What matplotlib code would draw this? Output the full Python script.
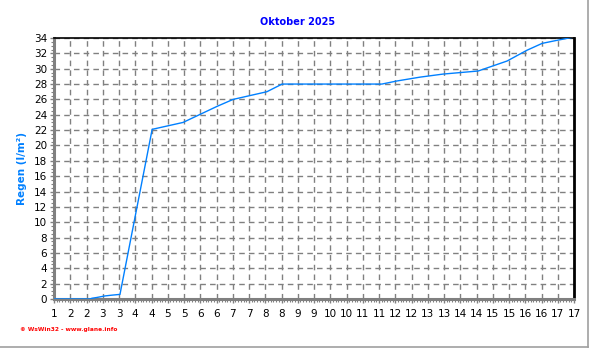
import matplotlib
matplotlib.use("Agg")
import matplotlib.pyplot as plt
from matplotlib.ticker import MultipleLocator, FixedLocator
from matplotlib.lines import Line2D
import math

# Data (day of month as fractional time, cumulative rain l/m²)
days = [1.0, 2.11, 2.17, 2.32, 2.57, 2.78, 3.03, 4.02, 4.97, 6.02, 6.51, 7.55, 8.02,
        11.09, 11.55, 12.26, 12.97, 14.05, 14.94, 15.55, 16.02, 16.48, 16.97]
rain = [0.0, 0.0, 0.1, 0.2, 0.4, 0.5, 0.6, 22.1, 23.0, 25.1, 26.0, 27.0, 28.0,
        28.0, 28.4, 28.9, 29.3, 29.7, 31.0, 32.4, 33.3, 33.7, 34.1]
x_ticks = [1 + 0.5 * i for i in range(33)]
x_labels = [str(int(math.floor(v + 0.5))) for v in x_ticks]
y_ticks = list(range(0, 35, 2))

title = "Oktober 2025"
ylabel = "Regen (l/m²)"
footer = "© WsWin32 - www.glane.info"

fig = plt.figure(figsize=(5.92, 3.48), dpi=100)
fig.patch.set_facecolor("white")
ax = fig.add_axes([54/592, 49/348, 520/592, 261/348])

ax.plot(days, rain, color="#0080FF", lw=1.0, zorder=3)

ax.set_xlim(1, 17)
ax.set_ylim(0, 34)
ax.xaxis.set_major_locator(FixedLocator(x_ticks))
ax.set_xticklabels(x_labels)
ax.xaxis.set_minor_locator(MultipleLocator(1/12))
ax.yaxis.set_major_locator(FixedLocator(y_ticks))
ax.yaxis.set_minor_locator(MultipleLocator(0.5))

ax.grid(True, which="major", color="#808080", linestyle=(0, (4, 3)), lw=1.0)

for s in ["left", "bottom"]:
    ax.spines[s].set_color("#808080")
    ax.spines[s].set_linewidth(2.2)
ax.spines["top"].set_color("black")
ax.spines["top"].set_linewidth(1.2)
ax.spines["right"].set_color("black")
ax.spines["right"].set_linewidth(2.0)

ax.tick_params(axis="both", which="major", direction="out", length=3, width=1,
               color="#808080", labelsize=7.5, labelcolor="black")
ax.tick_params(axis="both", which="minor", direction="out", length=2, width=0.8,
               color="#808080")
ax.tick_params(axis="x", pad=4)
ax.tick_params(axis="y", pad=2)

fig.text(298/592, 1 - 22/348, title, color="#0000FF", fontsize=7,
         fontweight="bold", ha="center", va="center")
fig.text(22/592, 1 - 168/348, ylabel, color="#0080FF", fontsize=7.5,
         fontweight="bold", rotation=90, ha="center", va="center")
fig.text(20/592, 1 - 330/348, footer, color="#FF0000", fontsize=4.2,
         fontweight="bold", ha="left", va="center")

# outer panel border (right and bottom gray lines)
fig.add_artist(Line2D([587.5/592, 587.5/592], [1.5/348, 1], color="#A0A0A0",
                      lw=1.2, transform=fig.transFigure))
fig.add_artist(Line2D([0, 587.5/592], [1.5/348, 1.5/348], color="#A0A0A0",
                      lw=1.2, transform=fig.transFigure))

fig.savefig("out.png", dpi=100)
